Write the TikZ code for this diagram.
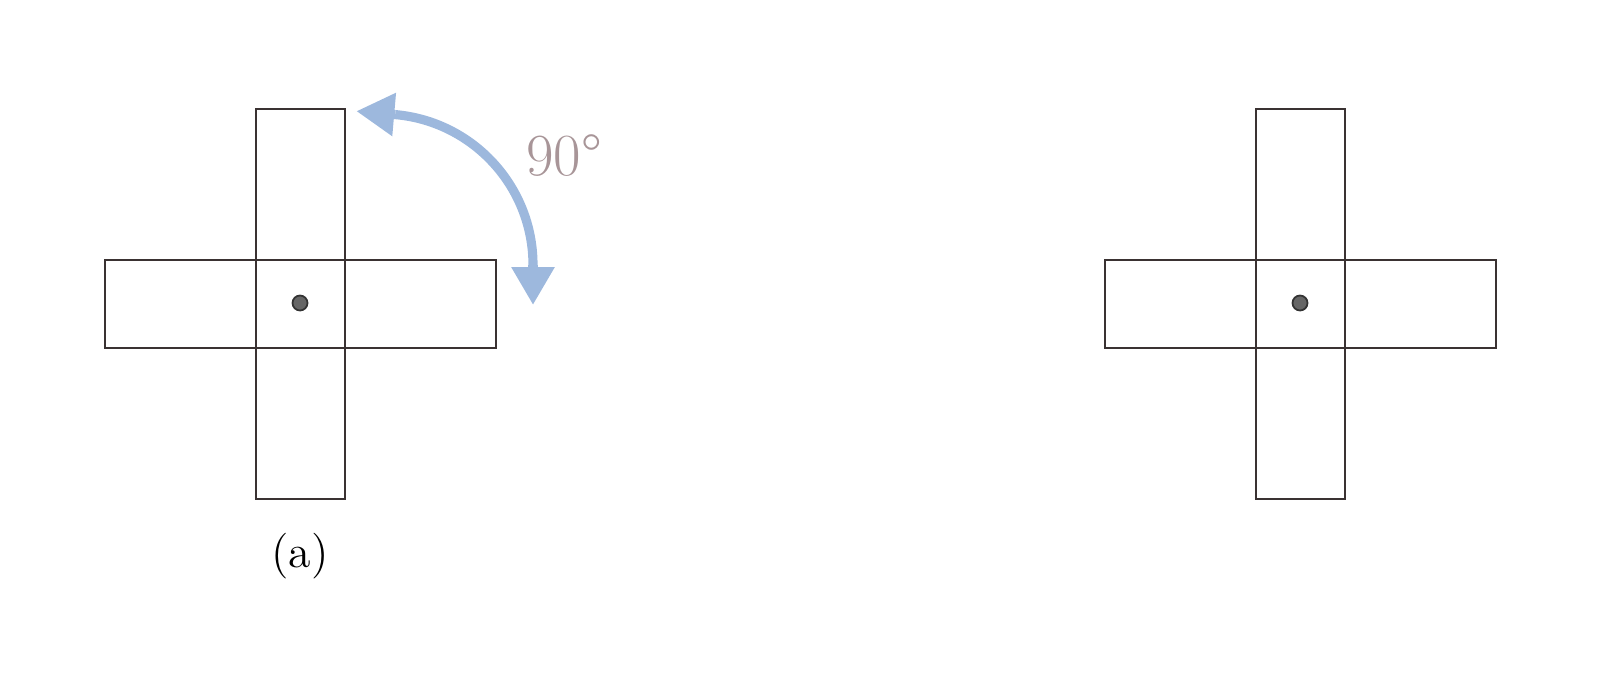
\documentclass[tikz,border=0pt]{standalone}
\usetikzlibrary{arrows.meta}
\usetikzlibrary{calc}
\usepackage{xcolor}
\definecolor{edgegray}{HTML}{3A3232}
\definecolor{turnblue}{HTML}{9DB8DD}
\definecolor{anglegray}{HTML}{A89598}

\begin{document}
\begin{tikzpicture}[
		% Styles for the crosses and the turn arrow
		bar/.style={draw=edgegray, line width=0.6pt},
		pivot/.style={circle, draw=black!80, fill=black!60, line width=0.5pt, inner sep=0pt, minimum size=1.5mm},
		turn/.style={line width=2.6pt, draw=turnblue},
		turntip/.style={turn, -{Triangle[length=3.8mm, width=4.1mm]}},
		]
		\useasboundingbox (0,0) rectangle (16,6.72);

		% Two identical crosses
		\foreach \cx/\name in {3.00/left, 13.00/right} {
			\draw[bar] (\cx-0.44,1.73) rectangle (\cx+0.45,5.63);
			\draw[bar] (\cx-1.95,3.24) rectangle (\cx+1.96,4.12);
			\node[pivot] (\name pin) at (\cx,3.69) {};
		}

		% Caption
		\node[font=\fontsize{13}{15}\selectfont] (caption) at (3.00,1.16) {(a)};

		% Rotation arrow: arc plus two tangent tips
		\coordinate (hub) at (3.82,4.07);
		\coordinate (arctop) at ($(hub)+(85:1.51)$);
		\coordinate (arcend) at ($(hub)+(0:1.51)$);
		\draw[turn] (arctop) arc[start angle=85, end angle=0, radius=1.51];
		\draw[turntip] (arctop) -- ++(175:0.39);
		\draw[turntip] (arcend) -- ++(-90:0.40);
		\node[text=anglegray, font=\fontsize{17}{19}\selectfont] (angle) at (5.64,5.16) {90°};

	\end{tikzpicture}
\end{document}
